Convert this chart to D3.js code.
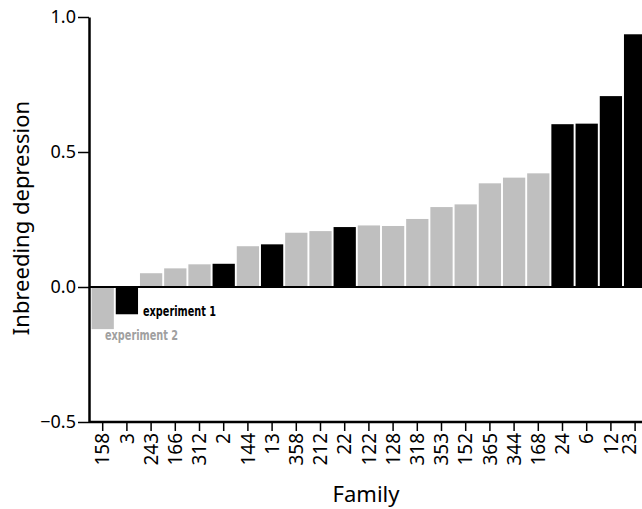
<!DOCTYPE html>
<html><head><meta charset="utf-8">
<script src="https://cdn.jsdelivr.net/npm/d3@7"></script>
<style>body{margin:0;background:#fff;} svg{display:block;}</style>
</head><body>
<svg id="c" width="642" height="509"></svg>
<script>
const families = ["158","3","243","166","312","2","144","13","358","212","22","122","128","318","353","152","365","344","168","24","6","12","23"];
const values = [-0.156,-0.101,0.051,0.069,0.084,0.086,0.151,0.158,0.201,0.207,0.222,0.228,0.226,0.252,0.296,0.306,0.384,0.405,0.421,0.603,0.605,0.707,0.936];
const experiments = [2,1,2,2,2,1,2,1,2,2,1,2,2,2,2,2,2,2,2,1,1,1,1];
const yTicks = [-0.5,0,0.5,1.0];
const colors = {1:"#000000",2:"#bfbfbf"};

const svg = d3.select("#c");
const x = d3.scaleBand().domain(families).range([90.6, 647.2]).paddingInner(0.08).paddingOuter(0.04);
const y = d3.scaleLinear().domain([-0.5,1.0]).range([422,17]);

const font = "'Noto Sans', sans-serif";

svg.append("g").selectAll("rect").data(families).join("rect")
  .attr("x", d => x(d))
  .attr("width", x.bandwidth())
  .attr("y", (d,i) => y(Math.max(0, values[i])))
  .attr("height", (d,i) => Math.abs(y(values[i]) - y(0)))
  .attr("fill", (d,i) => colors[experiments[i]]);

// zero line
svg.append("line").attr("x1", 89).attr("x2", 642).attr("y1", y(0)).attr("y2", y(0))
  .attr("stroke","#000").attr("stroke-width",2);

// y axis
const ya = svg.append("g").attr("transform","translate(89,0)")
  .call(d3.axisLeft(y).tickValues(yTicks).tickFormat(d3.format(".1f")).tickSize(11).tickSizeOuter(0));
ya.select(".domain").attr("stroke-width",2.5);
ya.selectAll(".tick line").attr("stroke-width",1.5);
ya.selectAll(".tick text").attr("font-family",font).attr("font-size",18).attr("fill","#000").attr("x",-13)
  .text(d => d < 0 ? "\u2212" + Math.abs(d).toFixed(1) : d.toFixed(1));

// x axis
const xa = svg.append("g").attr("transform","translate(0,422)")
  .call(d3.axisBottom(x).tickSize(9).tickSizeOuter(0));
xa.select(".domain").attr("d","M89,0H642").attr("stroke-width",2.5);
xa.selectAll(".tick line").attr("stroke-width",1.5);
xa.selectAll(".tick text").attr("font-family",font).attr("font-size",19).attr("fill","#000")
  .attr("transform","rotate(-90)").attr("x",-11).attr("y",0)
  .attr("dy", (d,i) => i === families.length - 1 ? "0.05em" : "0.35em")
  .attr("text-anchor","end");

svg.append("text").attr("transform","translate(29,218) rotate(-90)").attr("text-anchor","middle")
  .attr("font-family",font).attr("font-size",22).text("Inbreeding depression");
svg.append("text").attr("x",366).attr("y",502).attr("text-anchor","middle")
  .attr("font-family",font).attr("font-size",22).text("Family");

// legend labels
const lab = "'DejaVu Sans Condensed','Noto Sans',sans-serif";
svg.append("text").attr("x", 143).attr("y", 316)
  .attr("font-family",lab).attr("font-size",14).attr("font-weight","bold").attr("fill","#000")
  .attr("textLength",73).attr("lengthAdjust","spacingAndGlyphs").text("experiment 1");
svg.append("text").attr("x", 105).attr("y", 340)
  .attr("font-family",lab).attr("font-size",14).attr("font-weight","bold").attr("fill","#a0a0a0")
  .attr("textLength",73).attr("lengthAdjust","spacingAndGlyphs").text("experiment 2");
</script>
</body></html>
